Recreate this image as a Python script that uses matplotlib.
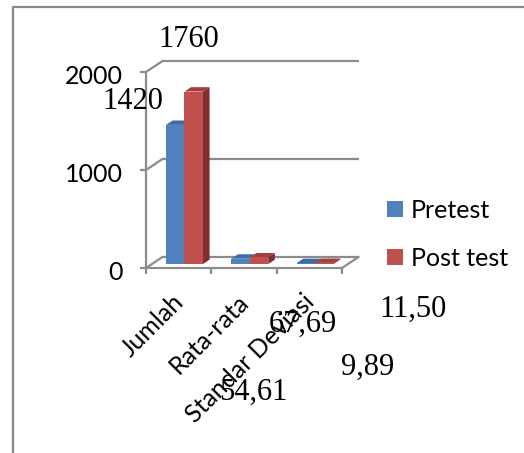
import matplotlib
matplotlib.use("Agg")
import matplotlib.pyplot as plt
from matplotlib.patches import Polygon, Patch
from matplotlib.lines import Line2D
import matplotlib.transforms as mtransforms

# ---------------- data ----------------
categories = ["Jumlah", "Rata-rata", "Standar Deviasi"]
series_names = ["Pretest", "Post test"]
pretest = [1420, 54.61, 9.89]
posttest = [1760, 67.69, 11.50]
yticks = [0, 1000, 2000]
ytick_labels = ["0", "1000", "2000"]

def fmt(v):
    if float(v).is_integer():
        return str(int(v))
    return f"{v:.2f}".replace(".", ",")

# ---------------- style ----------------
W, H = 524, 453
DPI = 100
SANS = "Lato"
SERIF = "Liberation Serif"
GRID = "#8c8c8c"
front_cols = ["#4F81BD", "#C0504D"]
top_cols = ["#3E6BA6", "#A33F3C"]
side_cols = ["#2F5487", "#7F2F2D"]
FS = 18

fig = plt.figure(figsize=(W / DPI, H / DPI), dpi=DPI)
fig.patch.set_facecolor("white")

def px(x, y):
    """figure pixel (from top-left) -> figure fraction"""
    return x / W, 1 - y / H

# axes: category -0.5..2.5 on x, value 0..2000 on y (front plane)
ax_l, ax_r, ax_t, ax_b = 146, 342, 72, 268
ax = fig.add_axes([ax_l / W, 1 - ax_b / H, (ax_r - ax_l) / W, (ax_b - ax_t) / H])
ax.set_xlim(-0.5, 2.5)
ax.set_ylim(0, 2000)
ax.patch.set_alpha(0)

# depth (3-D) offsets in data units
px_per_cat = (ax_r - ax_l) / 3
px_per_val = (ax_b - ax_t) / 2000
DX = 16.5 / px_per_cat
DY = 11.0 / px_per_val
f0, f1 = 0.36, 0.76
BAR_OFF = 0.215
BAR_W = 0.283

lw = 1.6
# back wall gridlines + left wall diagonals
for v in yticks:
    ax.plot([-0.5 + DX, 2.5 + DX], [v + DY, v + DY], color=GRID, lw=lw, clip_on=False, zorder=1,
            solid_capstyle="butt")
    ax.plot([-0.5, -0.5 + DX], [v, v + DY], color=GRID, lw=lw, clip_on=False, zorder=1)
# floor right edge
ax.plot([2.5, 2.5 + DX], [0, DY], color=GRID, lw=lw, clip_on=False, zorder=1)

# spines / ticks
for s in ["top", "right"]:
    ax.spines[s].set_visible(False)
for s in ["left", "bottom"]:
    ax.spines[s].set_color(GRID)
    ax.spines[s].set_linewidth(lw)
ax.set_yticks(yticks)
ax.set_yticklabels(ytick_labels, fontsize=FS, family=SANS)
ax.set_xticks([-0.5, 0.5, 1.5, 2.5])
ax.set_xticklabels([])
ax.tick_params(axis="both", direction="out", length=4.5, width=lw, color=GRID)
ax.tick_params(axis="y", pad=12)
off = mtransforms.ScaledTranslation(0, -2 / DPI, fig.dpi_scale_trans)
for lbl in ax.get_yticklabels():
    lbl.set_transform(lbl.get_transform() + off)

# bars (pseudo 3-D)
ddx, ddy = (f1 - f0) * DX, (f1 - f0) * DY
for i in range(len(categories)):
    for j, vals in enumerate([pretest, posttest]):
        v = vals[i]
        x0 = i - 0.5 + BAR_OFF + j * BAR_W + f0 * DX
        x1 = x0 + BAR_W
        y0 = f0 * DY
        y1 = y0 + v
        z = 3 + i * 2 + j
        top = Polygon([(x0, y1), (x1, y1), (x1 + ddx, y1 + ddy), (x0 + ddx, y1 + ddy)],
                      closed=True, facecolor=top_cols[j], edgecolor="none", clip_on=False, zorder=z)
        side = Polygon([(x1, y0), (x1 + ddx, y0 + ddy), (x1 + ddx, y1 + ddy), (x1, y1)],
                       closed=True, facecolor=side_cols[j], edgecolor="none", clip_on=False, zorder=z)
        ax.add_patch(top)
        ax.add_patch(side)
        ax.bar(x0, v, width=BAR_W, bottom=y0, align="edge", color=front_cols[j],
               edgecolor="none", clip_on=False, zorder=z + 0.5)

# category labels (rotated)
for i, c in enumerate(categories):
    ax.text(i + 0.14, -225, c, rotation=45, ha="right", va="top", fontsize=FS, family=SANS,
            clip_on=False)

# legend
handles = [Patch(facecolor=front_cols[0], edgecolor="none"),
           Patch(facecolor=front_cols[1], edgecolor="none")]
fig.legend(handles, series_names, loc="upper left", bbox_to_anchor=px(382, 194),
           frameon=False, prop={"family": SANS, "size": FS},
           handlelength=0.62, handleheight=0.62, handletextpad=0.33, labelspacing=1.0,
           borderaxespad=0, borderpad=0.2)

# data labels (as placed in the original)
label_pos_pre = [(132.5, 109), (253, 400), (367.5, 375)]
label_pos_post = [(189, 47), (303, 332), (413, 317)]
for vals, poss in [(pretest, label_pos_pre), (posttest, label_pos_post)]:
    for v, (x, y) in zip(vals, poss):
        fig.text(*px(x, y), fmt(v), ha="center", va="baseline", fontsize=22, family=SERIF)

# chart border
fig.add_artist(Line2D([13 / W, 13 / W, 1.0], [0.0, 1 - 7 / H, 1 - 7 / H],
                      transform=fig.transFigure, color="#888888", lw=1.6))

fig.savefig("out.png", dpi=DPI, facecolor="white")
